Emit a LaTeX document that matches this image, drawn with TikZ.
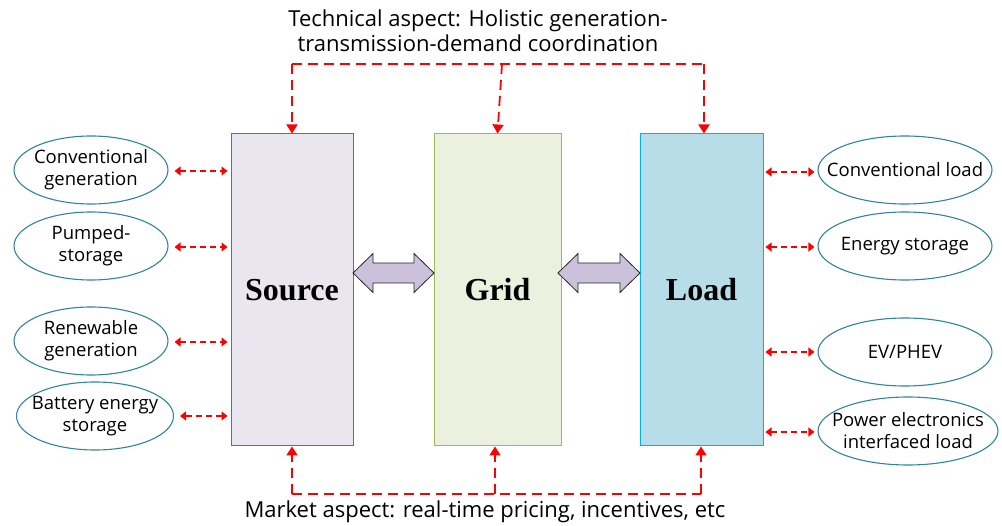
\documentclass[tikz,border=0pt]{standalone}
\usepackage{fontspec}
\setmainfont{Open Sans}
\newfontfamily\timesbold{Liberation Serif}
\usetikzlibrary{arrows.meta,shapes.geometric,calc}
\definecolor{srcfill}{HTML}{EAE6EF}
\definecolor{srcdraw}{HTML}{31849B}
\definecolor{gridfill}{HTML}{EBF1DE}
\definecolor{griddraw}{HTML}{9BBB59}
\definecolor{loadfill}{HTML}{B7DDE8}
\definecolor{loaddraw}{HTML}{00B0F0}
\definecolor{arrfill}{HTML}{CCC1DA}
\definecolor{ellc}{HTML}{31849B}
\definecolor{myred}{HTML}{FF0000}
\tikzset{
  blockbox/.style={draw, line width=1pt, minimum width=122pt, minimum height=312pt, inner sep=0pt, font=\timesbold\bfseries\fontsize{32}{34}\selectfont},
  ell/.style={ellipse, draw=ellc, line width=1.1pt, inner sep=0pt},
  elltxt/.style={inner sep=0pt, align=center, font=\fontsize{18.5}{22}\selectfont},
  redarr/.style={draw=myred, line width=1.8pt, dash pattern=on 10pt off 6pt, -{Triangle[length=9pt,width=11pt]}},
  redline/.style={draw=myred, line width=1.8pt, dash pattern=on 10pt off 6pt},
  redbi/.style={draw=myred, line width=1.3pt, dash pattern=on 6pt off 4pt, {Triangle[length=6pt,width=9pt]}-{Triangle[length=6pt,width=9pt]}},
  dblarr/.style={draw=black!85, line width=0.8pt, fill=arrfill},
  lbl/.style={inner sep=0pt, align=center, font=\fontsize{22}{25}\selectfont}
}
\begin{document}
\begin{tikzpicture}[x=1pt,y=-1pt]
\useasboundingbox (0,0) rectangle (1002,526);
% blocks
\node[blockbox, fill=srcfill, draw=srcdraw] (src) at (292,290) {Source};
\node[blockbox, fill=gridfill, draw=griddraw, minimum width=127pt] (grid) at (497.5,290) {Grid};
\node[blockbox, fill=loadfill, draw=loaddraw, minimum width=123pt] (load) at (701.5,290) {Load};
% double arrows
\draw[dblarr] (353,273) -- (373,253.5) -- (373,263) -- (414,263) -- (414,253.5) -- (434,273)
  -- (414,292.5) -- (414,283) -- (373,283) -- (373,292.5) -- cycle;
\draw[dblarr] (558,273) -- (578,253.5) -- (578,263) -- (620,263) -- (620,253.5) -- (640,273)
  -- (620,292.5) -- (620,283) -- (578,283) -- (578,292.5) -- cycle;
% left ellipses
\node[ell, minimum width=154pt, minimum height=68pt, label={[elltxt]center:Conventional\\generation}] (e1) at (91,170) {};
\node[ell, minimum width=154pt, minimum height=68pt, label={[elltxt]center:Pumped-\\storage}] (e2) at (91,246) {};
\node[ell, minimum width=154pt, minimum height=68pt, label={[elltxt]center:Renewable\\generation}] (e3) at (91,341) {};
\node[ell, minimum width=157pt, minimum height=68pt, label={[elltxt]center:Battery energy\\storage}] (e4) at (95,416) {};
% right ellipses
\node[ell, minimum width=174pt, minimum height=68pt, label={[elltxt]center:Conventional load}] (r1) at (905,170) {};
\node[ell, minimum width=174pt, minimum height=68pt, label={[elltxt]center:Energy storage}] (r2) at (905,246) {};
\node[ell, minimum width=174pt, minimum height=68pt, label={[elltxt]center:EV/PHEV}] (r3) at (905,352) {};
\node[ell, minimum width=180pt, minimum height=68pt, label={[elltxt]center:Power electronics\\interfaced load}] (r4) at (908,431) {};
% side connectors
\foreach \e/\yy in {e1/171,e2/247,e3/342,e4/416}{
  \draw[redbi, shorten <=6pt, shorten >=3pt] (\e.east |- 0,\yy) -- (src.west |- 0,\yy);
}
\foreach \e/\yy in {r1/172,r2/247,r3/352,r4/432}{
  \draw[redbi, shorten <=2pt, shorten >=3pt] (load.east |- 0,\yy) -- (\e.west |- 0,\yy);
}
% top
\node[lbl] (tech) at (478,31) {Technical aspect: Holistic generation-\\transmission-demand coordination};
\coordinate (tl) at (292,64);
\coordinate (tm) at (502,64);
\coordinate (tr) at (704,64);
\draw[redline] (tl) -- (tr);
\draw[redarr] (tl) -- (src.north);
\draw[redarr] (tm) -- (grid.north);
\draw[redarr] (tr) -- (load.north -| tr);
% bottom
\node[lbl] (mkt) at (485,512) {Market aspect: real-time pricing, incentives, etc};
\coordinate (bl) at (292,494);
\coordinate (bm) at (495,494);
\coordinate (br) at (701,494);
\draw[redline] (bl) -- (br);
\draw[redarr] (bl) -- (src.south);
\draw[redarr] (bm) -- (bm |- grid.south);
\draw[redarr] (br) -- (br |- load.south);
\end{tikzpicture}
\end{document}
